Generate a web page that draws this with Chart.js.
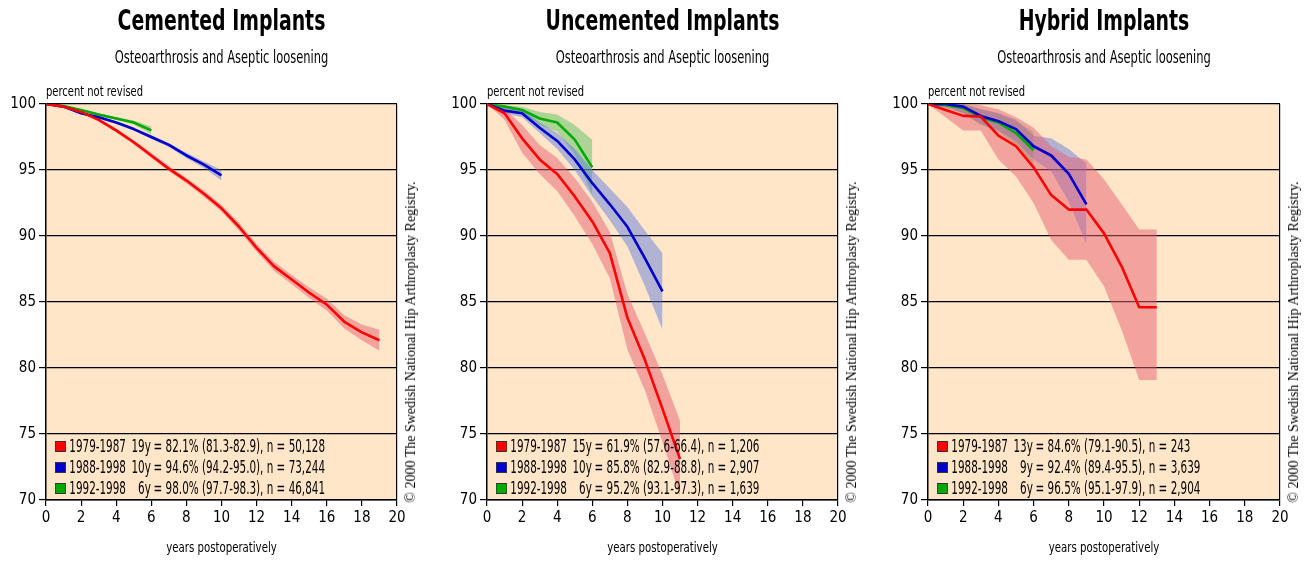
<!DOCTYPE html>
<html>
<head>
<meta charset="utf-8">
<script src="https://cdn.jsdelivr.net/npm/chart.js@4/dist/chart.umd.min.js"></script>
<style>
  html, body { margin: 0; padding: 0; background: #ffffff; }
  body { width: 1311px; height: 561px; position: relative; overflow: hidden;
         font-family: "DejaVu Sans Condensed", "Liberation Sans Narrow", sans-serif; font-stretch: condensed; color: #000; }
  .panel { position: absolute; top: 0; height: 561px; }
  .panel canvas { position: absolute; left: 0; top: 0; }
  .title { position: absolute; top: 4px; text-align: center; font-weight: bold; font-size: 28px; white-space: nowrap; transform: scaleX(0.75); transform-origin: center; }
  .subtitle { position: absolute; top: 47px; text-align: center; font-size: 17px; white-space: nowrap; transform: scaleX(0.75); transform-origin: center; }
  .ylab { position: absolute; top: 83px; font-size: 13.5px; white-space: nowrap; transform: scaleX(0.82); transform-origin: left center; }
  .xlab { position: absolute; top: 539px; text-align: center; font-size: 14.5px; white-space: nowrap; transform: scaleX(0.78); transform-origin: center; }
  .copy { position: absolute; font-family: "Liberation Serif", "DejaVu Serif", serif; font-size: 14px; white-space: nowrap;
          transform: translate(-50%, -50%) rotate(-90deg); font-stretch: normal; }
  .legend { position: absolute; top: 436px; font-size: 17px; line-height: 21px; white-space: nowrap; transform: scaleX(0.68); transform-origin: left top; }
  .row { display: flex; align-items: center; height: 21px; }
  .sw { flex: none; width: 14px; height: 9px; border: 1px solid #333; margin-right: 5px; }
  .per { flex: none; width: 86px; }
  .yr { flex: none; width: 34px; text-align: right; }
  .rest { flex: none; margin-left: 4px; }
</style>
</head>
<body>
<script>
// ---------- DATA ----------
const xTicks = [0, 2, 4, 6, 8, 10, 12, 14, 16, 18, 20];
const yTicks = [70, 75, 80, 85, 90, 95, 100];

const panelTitles = ["Cemented Implants", "Uncemented Implants", "Hybrid Implants"];
const panelSubtitle = "Osteoarthrosis and Aseptic loosening";
const yAxisLabel = "percent not revised";
const xAxisLabel = "years postoperatively";
const copyrightText = "\u00A9 2000 The Swedish National Hip Arthroplasty Registry.";
const periods = ["1979-1987", "1988-1998", "1992-1998"];

// Cemented
const cemRed      = [100, 99.8, 99.4, 98.8, 98.0, 97.1, 96.1, 95.1, 94.2, 93.2, 92.1, 90.7, 89.1, 87.7, 86.7, 85.7, 84.8, 83.5, 82.7, 82.1];
const cemRedUp    = [100, 99.85, 99.5, 98.9, 98.15, 97.25, 96.3, 95.3, 94.4, 93.45, 92.35, 91.0, 89.4, 88.05, 87.05, 86.1, 85.25, 84.0, 83.3, 82.9];
const cemRedLo    = [100, 99.75, 99.3, 98.7, 97.85, 96.95, 95.9, 94.9, 94.0, 92.95, 91.85, 90.4, 88.8, 87.35, 86.35, 85.3, 84.35, 83.0, 82.1, 81.3];
const cemBlue     = [100, 99.8, 99.3, 99.0, 98.6, 98.1, 97.5, 96.9, 96.1, 95.4, 94.6];
const cemBlueUp   = [100, 99.85, 99.4, 99.1, 98.7, 98.2, 97.65, 97.05, 96.3, 95.65, 95.0];
const cemBlueLo   = [100, 99.75, 99.2, 98.9, 98.5, 98.0, 97.35, 96.75, 95.9, 95.15, 94.2];
const cemGreen    = [100, 99.85, 99.55, 99.2, 98.9, 98.6, 98.0];
const cemGreenUp  = [100, 99.9, 99.6, 99.3, 99.0, 98.75, 98.3];
const cemGreenLo  = [100, 99.8, 99.5, 99.1, 98.8, 98.45, 97.7];
const cemLegend   = [["19y", "= 82.1% (81.3-82.9), n = 50,128"], ["10y", "= 94.6% (94.2-95.0), n = 73,244"], ["6y", "= 98.0% (97.7-98.3), n = 46,841"]];

// Uncemented
const uncRed      = [100, 99.3, 97.4, 95.8, 94.7, 93.0, 91.1, 88.7, 83.8, 80.6, 76.9, 73.1];
const uncRedUp    = [100, 99.7, 98.4, 96.9, 95.9, 94.4, 92.6, 90.3, 85.6, 82.6, 79.5, 76.0];
const uncRedLo    = [100, 98.8, 96.3, 94.7, 93.4, 91.5, 89.4, 86.8, 81.4, 78.3, 74.4, 70.3];
const uncBlue     = [100, 99.5, 99.3, 98.2, 97.2, 95.8, 94.0, 92.4, 90.7, 88.3, 85.8];
const uncBlueUp   = [100, 99.7, 99.6, 98.6, 97.8, 96.6, 95.0, 93.6, 92.2, 90.4, 88.7];
const uncBlueLo   = [100, 99.3, 99.0, 97.8, 96.6, 95.0, 93.0, 91.2, 89.2, 86.2, 82.9];
const uncGreen    = [100, 99.8, 99.55, 98.9, 98.6, 97.3, 95.2];
const uncGreenUp  = [100, 99.9, 99.8, 99.4, 99.2, 98.4, 97.3];
const uncGreenLo  = [100, 99.7, 99.3, 98.4, 97.9, 96.2, 93.1];
const uncLegend   = [["15y", "= 61.9% (57.6-66.4), n = 1,206"], ["10y", "= 85.8% (82.9-88.8), n = 2,907"], ["6y", "= 95.2% (93.1-97.3), n = 1,639"]];

// Hybrid
const hybRed      = [100, 99.55, 99.1, 99.05, 97.6, 96.8, 95.2, 93.1, 92.0, 92.0, 90.2, 87.7, 84.6, 84.6];
const hybRedUp    = [100, 100, 100, 99.9, 99.6, 99.0, 98.2, 96.8, 96.0, 95.8, 94.3, 92.4, 90.5, 90.5];
const hybRedLo    = [100, 99.0, 98.0, 98.0, 95.8, 94.5, 92.5, 89.7, 88.2, 88.2, 86.2, 82.9, 79.1, 79.1];
const hybBlue     = [100, 100, 99.8, 99.1, 98.7, 98.1, 96.8, 96.1, 94.7, 92.4];
const hybBlueUp   = [100, 100, 100, 99.6, 99.3, 98.8, 97.6, 97.4, 96.6, 95.5];
const hybBlueLo   = [100, 99.9, 99.3, 98.5, 98.0, 97.2, 95.8, 94.9, 92.6, 89.4];
const hybGreen    = [100, 99.9, 99.7, 99.0, 98.6, 97.8, 96.5];
const hybGreenUp  = [100, 100, 100, 99.6, 99.3, 98.7, 97.9];
const hybGreenLo  = [100, 99.7, 99.3, 98.4, 97.9, 96.9, 95.1];
const hybLegend   = [["13y", "= 84.6% (79.1-90.5), n = 243"], ["9y", "= 92.4% (89.4-95.5), n = 3,639"], ["6y", "= 96.5% (95.1-97.9), n = 2,904"]];

// ---------- STYLE ----------
const lineColors = ["#ff0000", "#0000cc", "#00aa00"];
const bandColors = ["rgba(232,95,115,0.5)", "rgba(85,115,225,0.45)", "rgba(70,190,90,0.45)"];
const plotBg = "#ffe6c9";
const fontFam = '"DejaVu Sans Condensed", "Liberation Sans Narrow", sans-serif';

const panels = [
  { left: 0,   width: 441, padRight: 44, series: [[cemRed, cemRedUp, cemRedLo], [cemBlue, cemBlueUp, cemBlueLo], [cemGreen, cemGreenUp, cemGreenLo]], legend: cemLegend },
  { left: 441, width: 441, padRight: 44, series: [[uncRed, uncRedUp, uncRedLo], [uncBlue, uncBlueUp, uncBlueLo], [uncGreen, uncGreenUp, uncGreenLo]], legend: uncLegend },
  { left: 882, width: 429, padRight: 31, series: [[hybRed, hybRedUp, hybRedLo], [hybBlue, hybBlueUp, hybBlueLo], [hybGreen, hybGreenUp, hybGreenLo]], legend: hybLegend }
];

const toXY = arr => arr.map((v, i) => ({ x: i, y: v }));

const bgPlugin = {
  id: 'plotBg',
  beforeDraw(chart) {
    const a = chart.chartArea, c = chart.ctx;
    c.save(); c.fillStyle = plotBg; c.fillRect(a.left, a.top, a.right - a.left, a.bottom - a.top); c.restore();
  }
};

panels.forEach((p, pi) => {
  const div = document.createElement('div');
  div.className = 'panel';
  div.style.left = p.left + 'px';
  div.style.width = p.width + 'px';
  document.body.appendChild(div);

  const canvas = document.createElement('canvas');
  canvas.width = p.width; canvas.height = 561;
  canvas.style.width = p.width + 'px'; canvas.style.height = '561px';
  div.appendChild(canvas);

  const plotL = 46, plotR = p.width - p.padRight, plotW = plotR - plotL;

  const datasets = [];
  p.series.forEach((s, si) => {
    datasets.push({ label: periods[si] + ' upper', data: toXY(s[1]), borderColor: 'rgba(0,0,0,0)', borderWidth: 0, pointRadius: 0, fill: '+1', backgroundColor: bandColors[si], order: 5, tension: 0 });
    datasets.push({ label: periods[si] + ' lower', data: toXY(s[2]), borderColor: 'rgba(0,0,0,0)', borderWidth: 0, pointRadius: 0, fill: false, order: 5, tension: 0 });
  });
  p.series.forEach((s, si) => {
    datasets.push({ label: periods[si], data: toXY(s[0]), borderColor: lineColors[si], borderWidth: 2.6, pointRadius: 0, fill: false, order: 1, tension: 0, borderJoinStyle: 'round', borderCapStyle: 'butt' });
  });

  new Chart(canvas, {
    type: 'line',
    data: { datasets },
    options: {
      responsive: false, animation: false,
      layout: { padding: { top: 104, right: p.padRight, left: 0, bottom: 0 } },
      plugins: { legend: { display: false }, tooltip: { enabled: false }, title: { display: false } },
      scales: {
        x: {
          type: 'linear', min: 0, max: 20,
          afterFit: sc => { sc.height = 61; },
          afterBuildTicks: sc => { sc.ticks = xTicks.map(v => ({ value: v })); },
          ticks: { color: '#000', font: { family: fontFam, size: 15 }, padding: 3, maxRotation: 0, autoSkip: false },
          grid: { drawOnChartArea: true, color: c => (c.tick && c.tick.value === 20) ? '#000' : 'rgba(0,0,0,0)', tickColor: '#000', tickLength: 6, lineWidth: 1.2 },
          border: { display: true, color: '#000', width: 1.5 }
        },
        y: {
          type: 'linear', min: 70, max: 100,
          afterFit: sc => { sc.width = 46; },
          afterBuildTicks: sc => { sc.ticks = yTicks.map(v => ({ value: v })); },
          ticks: { color: '#000', font: { family: fontFam, size: 15 }, padding: 3, autoSkip: false },
          grid: { color: '#000', tickColor: '#000', tickLength: 7, lineWidth: 1.2 },
          border: { display: true, color: '#000', width: 1.5 }
        }
      }
    },
    plugins: [bgPlugin]
  });

  const t = document.createElement('div'); t.className = 'title'; t.textContent = panelTitles[pi];
  t.style.left = plotL + 'px'; t.style.width = plotW + 'px'; div.appendChild(t);
  const st = document.createElement('div'); st.className = 'subtitle'; st.textContent = panelSubtitle;
  st.style.left = plotL + 'px'; st.style.width = plotW + 'px'; div.appendChild(st);
  const yl = document.createElement('div'); yl.className = 'ylab'; yl.textContent = yAxisLabel;
  yl.style.left = plotL + 'px'; div.appendChild(yl);
  const xl = document.createElement('div'); xl.className = 'xlab'; xl.textContent = xAxisLabel;
  xl.style.left = plotL + 'px'; xl.style.width = plotW + 'px'; div.appendChild(xl);
  const cp = document.createElement('div'); cp.className = 'copy'; cp.textContent = copyrightText;
  cp.style.left = (plotR + 14) + 'px'; cp.style.top = '342px'; div.appendChild(cp);

  const lg = document.createElement('div'); lg.className = 'legend'; lg.style.left = '55px';
  p.legend.forEach((L, li) => {
    const row = document.createElement('div'); row.className = 'row';
    const sw = document.createElement('span'); sw.className = 'sw'; sw.style.background = lineColors[li];
    const per = document.createElement('span'); per.className = 'per'; per.textContent = periods[li];
    const yr = document.createElement('span'); yr.className = 'yr'; yr.textContent = L[0];
    const rest = document.createElement('span'); rest.className = 'rest'; rest.textContent = L[1];
    row.append(sw, per, yr, rest); lg.appendChild(row);
  });
  div.appendChild(lg);
});
</script>
</body>
</html>
